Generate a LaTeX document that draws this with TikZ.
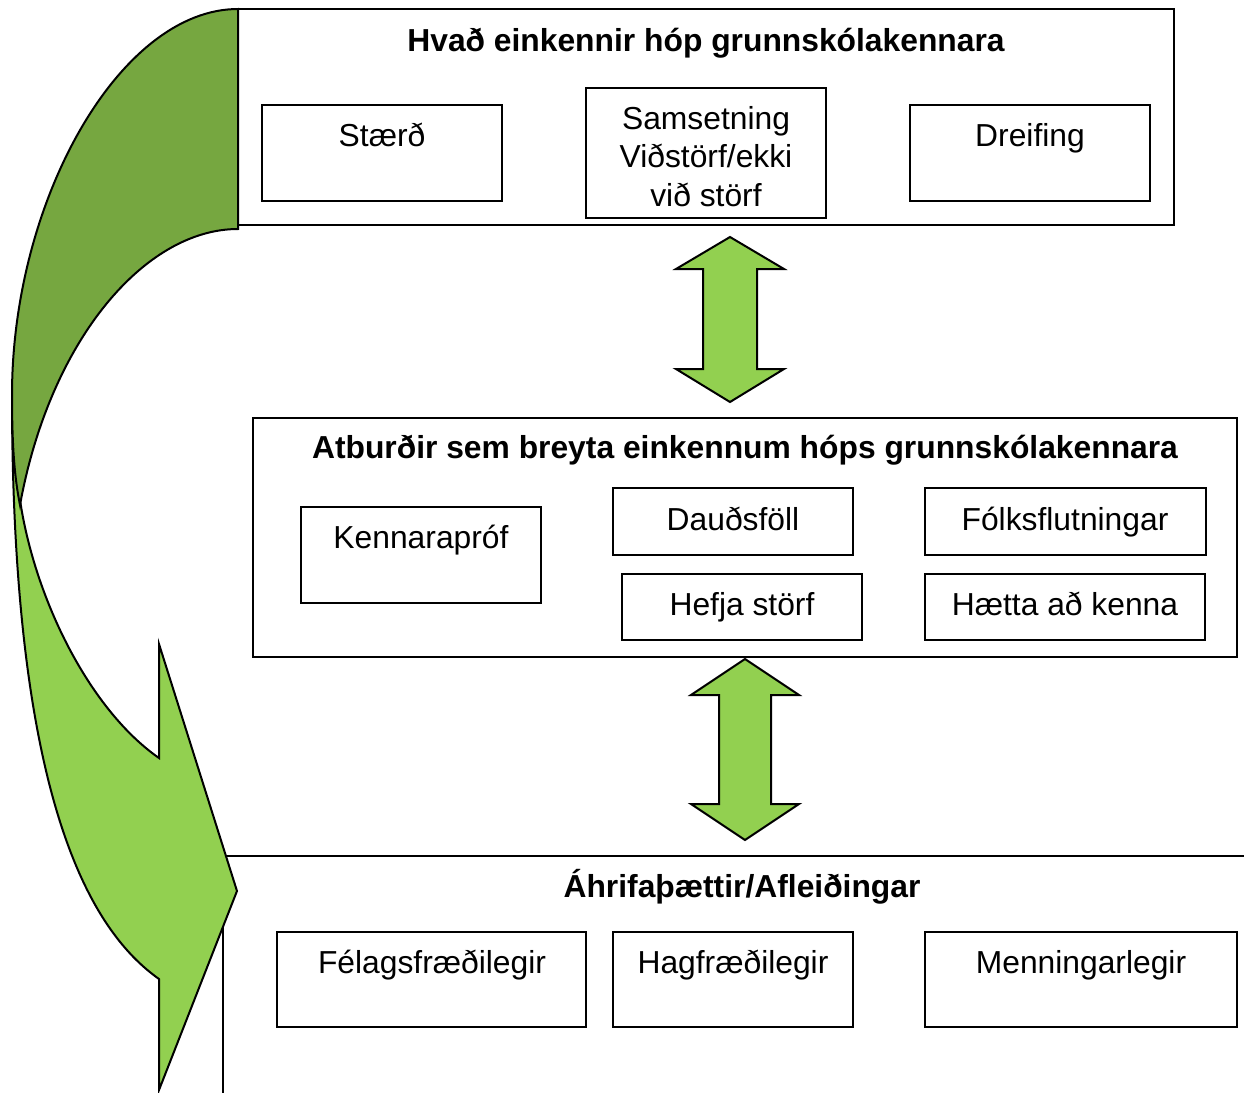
\documentclass[tikz,border=0pt]{standalone}
\usepackage{fontspec}
\setmainfont{Liberation Sans}
\usetikzlibrary{fit}
\definecolor{darkgr}{RGB}{118,167,64}
\definecolor{lightgr}{RGB}{146,208,80}
\tikzset{
  box/.style={draw=black, line width=1pt, fill=white, inner sep=0pt},
  lbl/.style={anchor=base, inner sep=0pt, font=\fontsize{15.9}{19}\selectfont},
  ttl/.style={anchor=base, inner sep=0pt, font=\fontsize{15.9}{19}\selectfont\bfseries},
  arr/.style={draw=black, line width=1pt, line join=miter},
}
\begin{document}
\begin{tikzpicture}[x=0.5pt,y=-0.5pt]
\useasboundingbox (0,0) rectangle (1244,1093);

% ---- top group
\node[box, fit={(238,9) (1174,225)}] (top) {};
\node[ttl] (t1) at (706,51) {Hvað einkennir hóp grunnskólakennara};
\node[box, fit={(262,105) (502,201)}] (b11) {};
\node[lbl] at (382,146) {Stærð};
\node[box, fit={(586,88) (826,218)}] (b12) {};
\node[lbl] at (706,129) {Samsetning};
\node[lbl] at (706,167) {Viðstörf/ekki};
\node[lbl] at (706,206) {við störf};
\node[box, fit={(910,105) (1150,201)}] (b13) {};
\node[lbl] at (1030,146) {Dreifing};

% ---- double arrow 1
\path[arr, fill=lightgr] (730,237) -- (784,269) -- (757,269) -- (757,369) -- (784,369) -- (730,402)
  -- (676,369) -- (703,369) -- (703,269) -- (676,269) -- cycle;

% ---- middle group
\node[box, fit={(253,418) (1237,657)}] (mid) {};
\node[ttl] (t2) at (745,458) {Atburðir sem breyta einkennum hóps grunnskólakennara};
\node[box, fit={(301,507) (541,603)}] (b21) {};
\node[lbl] at (421,548) {Kennarapróf};
\node[box, fit={(613,488) (853,555)}] (b22) {};
\node[lbl] at (733,530) {Dauðsföll};
\node[box, fit={(925,488) (1206,555)}] (b23) {};
\node[lbl] at (1065,530) {Fólksflutningar};
\node[box, fit={(622,574) (862,640)}] (b24) {};
\node[lbl] at (742,615) {Hefja störf};
\node[box, fit={(925,574) (1205,640)}] (b25) {};
\node[lbl] at (1065,615) {Hætta að kenna};

% ---- double arrow 2
\path[arr, fill=lightgr] (745,659) -- (799,695) -- (771,695) -- (771,804) -- (799,804) -- (745,840)
  -- (691,804) -- (719,804) -- (719,695) -- (691,695) -- cycle;

% ---- bottom group (open frame)
\coordinate (f1) at (223,1093);
\coordinate (f2) at (223,856);
\coordinate (f3) at (1244,856);
\draw[line width=1pt] (f1) -- (f2) -- (f3);
\node[ttl] (t3) at (742,897) {Áhrifaþættir/Afleiðingar};
\node[box, fit={(277,932) (586,1027)}] (b31) {};
\node[lbl] at (432,973) {Félagsfræðilegir};
\node[box, fit={(613,932) (853,1027)}] (b32) {};
\node[lbl] at (733,973) {Hagfræðilegir};
\node[box, fit={(925,932) (1237,1027)}] (b33) {};
\node[lbl] at (1081,973) {Menningarlegir};

% ---- curved arrow: light body
\path[arr, fill=lightgr] (12,395) .. controls (12,800) and (90,930) .. (159,979)
  -- (159,1090) -- (237,891) -- (159,644) -- (159,758)
  .. controls (90,710) and (35,600) .. (20,500) -- cycle;
% ---- curved arrow: dark back
\path[arr, fill=darkgr] (238,9) .. controls (120,9) and (12,200) .. (12,395)
  .. controls (12,450) and (15,480) .. (20,505)
  .. controls (50,340) and (145,229) .. (238,229) -- cycle;
\end{tikzpicture}
\end{document}
